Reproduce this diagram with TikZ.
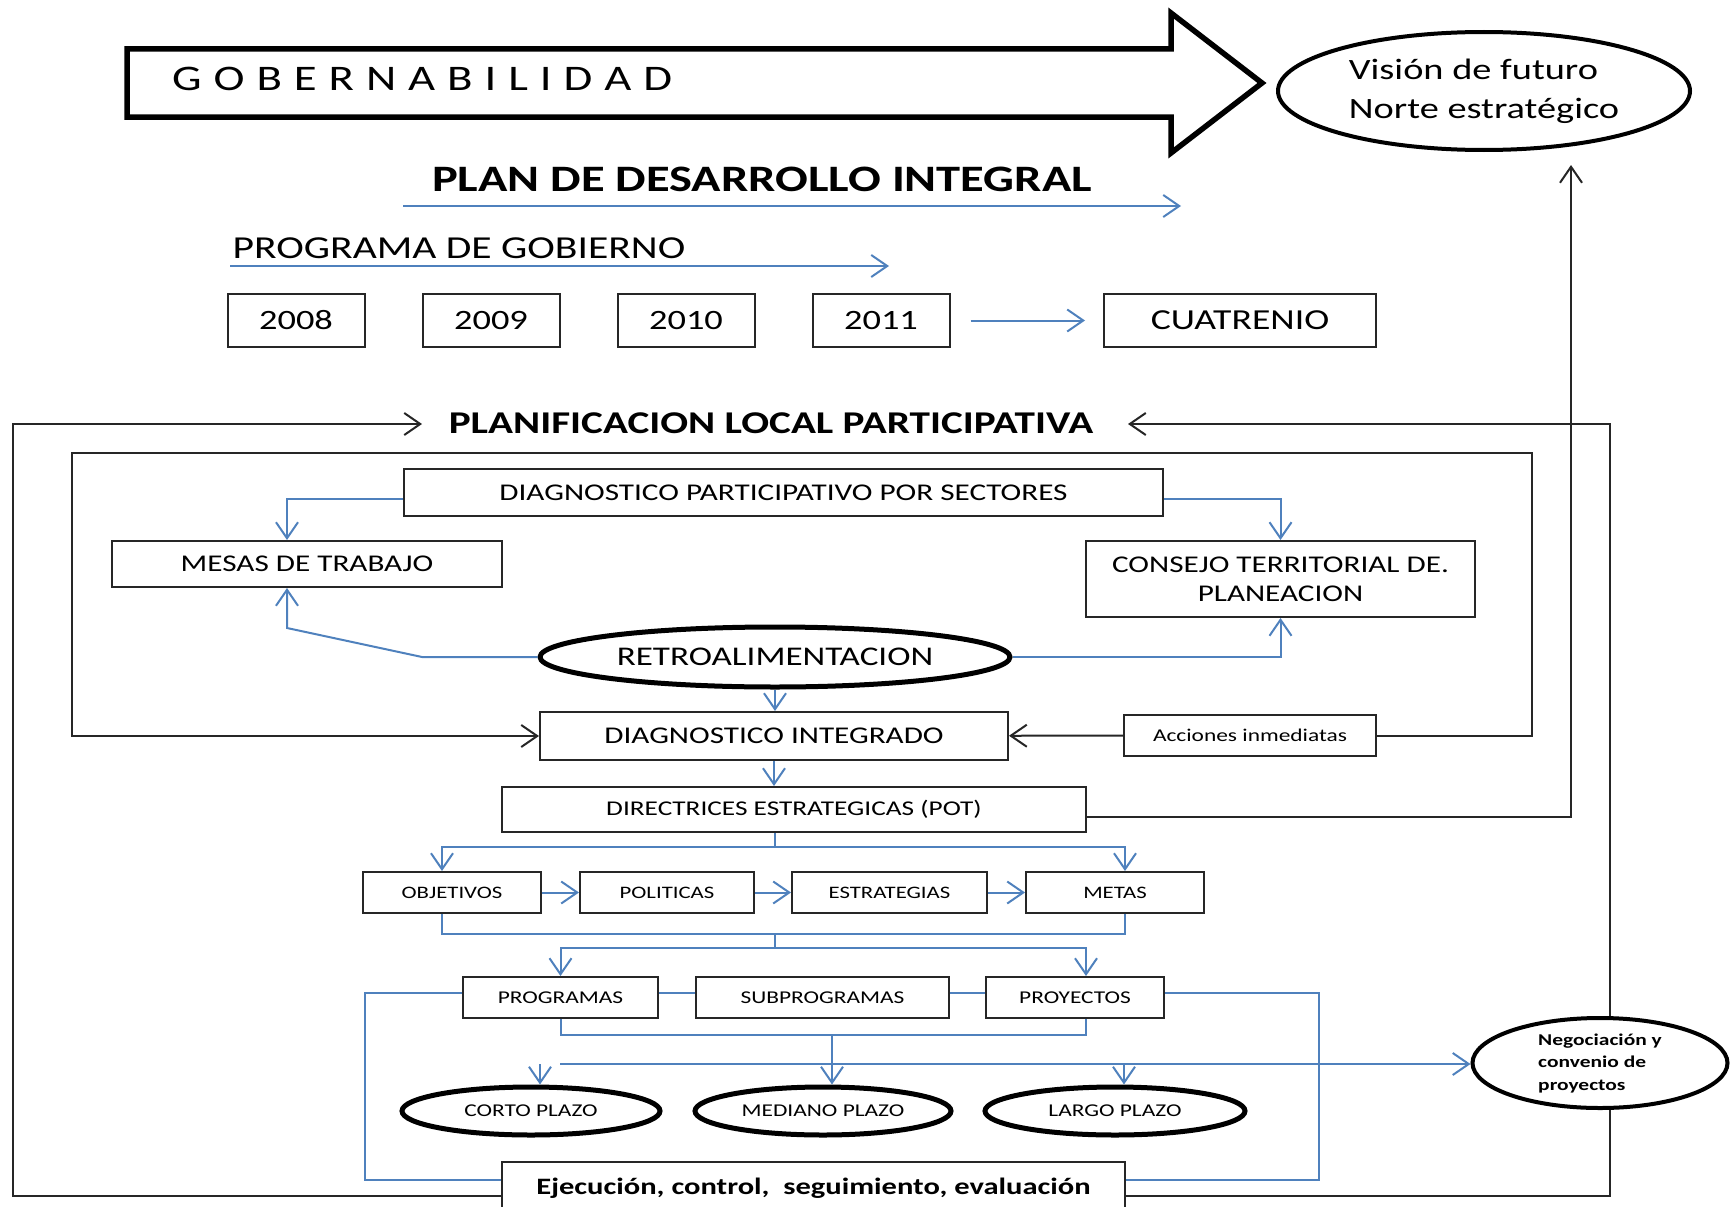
\documentclass[tikz,border=0pt]{standalone}
\usepackage{fontspec}
\setmainfont{Carlito}[FakeStretch=1.3]
\usepackage{tikz}
\usetikzlibrary{positioning,shapes.geometric,arrows.meta}
\definecolor{lnblue}{RGB}{79,129,189}

\begin{document}
\begin{tikzpicture}[x=1pt, y=-1pt,
  box/.style={draw=black!85, line width=2pt, inner sep=0pt, align=center},
  oval/.style={ellipse, draw=black, line width=5pt, inner sep=0pt, font=\fontsize{18}{22}\selectfont},
  bl/.style={draw=lnblue, line width=2pt},
  bla/.style={bl, -{Straight Barb[length=16pt,width=22pt]}},
  blk/.style={draw=black!85, line width=2pt},
  blka/.style={blk, -{Straight Barb[length=16pt,width=22pt]}}]
\useasboundingbox (0,0) rectangle (1730,1207);

% gobernabilidad
\draw[line width=5.5pt] (127,49) -- (1171,49) -- (1171,13) -- (1262,83) -- (1171,153) -- (1171,117) -- (127,117) -- cycle;
\node[inner sep=0, anchor=west, font=\fontsize{36}{40}\selectfont] (gob) at (172,79)
  {\makebox[500pt][s]{G\hfill O\hfill B\hfill E\hfill R\hfill N\hfill A\hfill B\hfill I\hfill L\hfill I\hfill D\hfill A\hfill D}};
\node[ellipse, draw, line width=4pt, inner sep=0, minimum width=412, minimum height=118, align=left,
  font=\fontsize{29.5}{39}\selectfont] (vision) at (1484,91) {Visión de futuro\\Norte estratégico};

% plan y programa
\node[inner sep=0, font=\bfseries\fontsize{37.3}{44}\selectfont] (plan) at (762,179) {PLAN DE DESARROLLO INTEGRAL};
\coordinate (pl1) at (403,206);
\coordinate (pl2) at (1181,206);
\draw[bla] (pl1) -- (pl2);
\node[inner sep=0, font=\fontsize{32}{38}\selectfont] (progob) at (459,248) {PROGRAMA DE GOBIERNO};
\coordinate (pg1) at (230,266);
\coordinate (pg2) at (889,266);
\draw[bla] (pg1) -- (pg2);
\foreach \yr [count=\i from 0] in {2008,2009,2010,2011}
  \node[box, minimum width=137, minimum height=53, font=\fontsize{28}{34}\selectfont] (y\yr) at ({296+195*\i},320.5) {\yr};
\node[box, minimum width=272, minimum height=53, font=\fontsize{29}{35}\selectfont] (cuat) at (1240,320.5) {CUATRENIO};
\draw[bla, shorten <=20pt, shorten >=18pt] (y2011) -- (cuat);

% planificacion
\node[inner sep=0, font=\bfseries\fontsize{31.7}{37}\selectfont] (planif) at (771,423) {PLANIFICACION LOCAL PARTICIPATIVA};
\node[box, minimum width=759, minimum height=47, font=\fontsize{24}{29}\selectfont] (dps) at (783.5,492.5) {DIAGNOSTICO PARTICIPATIVO POR SECTORES};
\node[box, minimum width=390, minimum height=46, font=\fontsize{24}{29}\selectfont] (mesas) at (307,564) {MESAS DE TRABAJO};
\node[box, minimum width=389, minimum height=76, font=\fontsize{24}{29}\selectfont] (consejo) at (1280.5,579) {CONSEJO TERRITORIAL DE.\\PLANEACION};
\node[oval, minimum width=470, minimum height=60, inner xsep=-30pt, font=\fontsize{27}{32}\selectfont] (retro) at (775,657) {RETROALIMENTACION};
\node[box, minimum width=468, minimum height=48, font=\fontsize{24}{29}\selectfont] (diagint) at (774,736) {DIAGNOSTICO INTEGRADO};
\node[box, minimum width=252, minimum height=41, font=\fontsize{18}{22}\selectfont] (acc) at (1250,735.5) {Acciones inmediatas};
\node[box, minimum width=584, minimum height=45, font=\fontsize{21}{25}\selectfont] (direct) at (794,809.5) {DIRECTRICES ESTRATEGICAS (POT)};

\node[box, minimum width=178, minimum height=41, font=\fontsize{17.5}{21}\selectfont] (obj) at (452,892.5) {OBJETIVOS};
\node[box, minimum width=174, minimum height=41, font=\fontsize{17.5}{21}\selectfont] (pol) at (667,892.5) {POLITICAS};
\node[box, minimum width=195, minimum height=41, font=\fontsize{17.5}{21}\selectfont] (estr) at (889.5,892.5) {ESTRATEGIAS};
\node[box, minimum width=178, minimum height=41, font=\fontsize{17.5}{21}\selectfont] (metas) at (1115,892.5) {METAS};

\node[box, minimum width=195, minimum height=41, font=\fontsize{18}{22}\selectfont] (prog) at (560.5,997.5) {PROGRAMAS};
\node[box, minimum width=253, minimum height=41, font=\fontsize{18}{22}\selectfont] (sub) at (822.5,997.5) {SUBPROGRAMAS};
\node[box, minimum width=178, minimum height=41, font=\fontsize{18}{22}\selectfont] (proy) at (1075,997.5) {PROYECTOS};

\node[oval, minimum width=258, minimum height=48] (corto) at (531,1111) {CORTO PLAZO};
\node[oval, minimum width=256, minimum height=48] (mediano) at (823,1111) {MEDIANO PLAZO};
\node[oval, minimum width=260, minimum height=48] (largo) at (1115,1111) {LARGO PLAZO};
\node[ellipse, draw, line width=4pt, inner sep=0, minimum width=255, minimum height=90, align=left,
  font=\bfseries\fontsize{16.5}{22.5}\selectfont] (negoc) at (1600,1063) {Negociación y\\convenio de\\proyectos};
\node[box, minimum width=623, minimum height=53, font=\bfseries\fontsize{23.5}{28}\selectfont] (ejec) at (813.5,1188.5) {Ejecución, control,\ \ seguimiento, evaluación};

% lazos negros
\coordinate (ol1) at (13,424);
\coordinate (ol2) at (422,424);
\coordinate (or1) at (1128,424);
\draw[blka] ([yshift=-7.5]ejec.west) -| (ol1) -- (ol2);
\draw[blk] ([yshift=-7.5]ejec.east) -| ([xshift=10]negoc.south);
\draw[blka] ([xshift=10]negoc.north) |- (or1);
\coordinate (ib1) at (1532,453);
\coordinate (ib2) at (72,736);
\draw[blka] (acc.east) -| (ib1) -| (ib2) -- (diagint.west);
\draw[blka] (acc) -- (diagint);
\coordinate (vtip) at (1571,165);
\draw[blka] ([yshift=-7]direct.east) -| (vtip);

% diagnostico
\draw[bla] ([yshift=-6]dps.west) -| ([xshift=-20]mesas.north);
\draw[bla] ([yshift=-6]dps.east) -| (consejo.north);
\coordinate (rk1) at (422,657);
\coordinate (rk2) at (287,628);
\draw[bla] (retro.west) -- (rk1) -- (rk2) -- ([xshift=-20]mesas.south);
\draw[bla] (retro.east) -| (consejo.south);
\draw[bla] (retro.south) -- (retro.south |- diagint.north);
\draw[bla] (diagint.south) -- (diagint.south |- direct.north);

% objetivos a metas
\coordinate (dv1) at (775,847);
\draw[bl] (dv1 |- direct.south) -- (dv1);
\draw[bla] (dv1) -| ([xshift=-10]obj.north);
\draw[bla] (dv1) -| ([xshift=10]metas.north);
\draw[bla] (obj) -- (pol);
\draw[bla] (pol) -- (estr);
\draw[bla] (estr) -- (metas);
\coordinate (dv2) at (775,934);
\coordinate (dv3) at (775,948);
\draw[bl] ([xshift=-10]obj.south) |- (dv2) -| ([xshift=10]metas.south);
\draw[bl] (dv2) -- (dv3);
\draw[bla] (dv3) -| (prog.north);
\draw[bla] (dv3) -| ([xshift=11]proy.north);

% programas
\draw[bl] ([yshift=5]prog.east) -- ([yshift=5]sub.west);
\draw[bl] ([yshift=5]sub.east) -- ([yshift=5]proy.west);
\coordinate (lb) at (365,1180);
\coordinate (rb) at (1319,1180);
\draw[bl] ([yshift=5]prog.west) -| (lb) -- ([yshift=8.5]ejec.west);
\draw[bl] ([yshift=5]proy.east) -| (rb) -- ([yshift=8.5]ejec.east);
\coordinate (dv4) at (832,1035);
\draw[bl] (prog.south) |- (dv4) -| ([xshift=11]proy.south);
\draw[bla] (dv4) -- (dv4 |- mediano.north);
\coordinate (hl1) at (560,1064);
\coordinate (hl2) at (540,1064);
\coordinate (hl3) at (1124,1064);
\draw[bla] (hl1) -- (hl1 -| negoc.west);
\draw[bla] (hl2) -- (hl2 |- corto.north);
\draw[bla] (hl3) -- (hl3 |- largo.north);
\end{tikzpicture}
\end{document}
